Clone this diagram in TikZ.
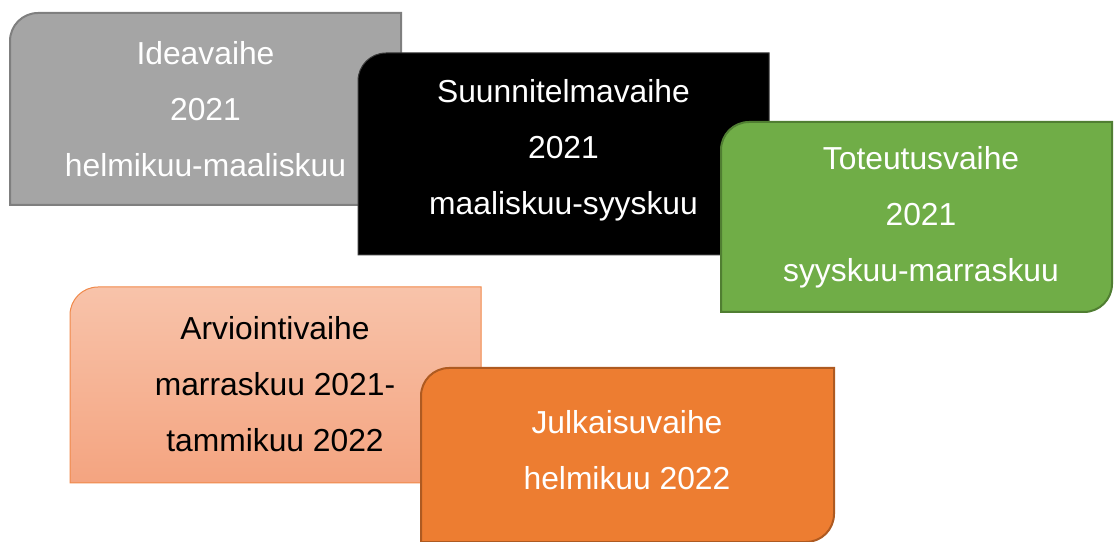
\documentclass[tikz,border=0pt]{standalone}
\usepackage{fontspec}
\setmainfont{Liberation Sans}
\definecolor{grayfill}{HTML}{A5A5A5}
\definecolor{grayline}{HTML}{7F7F7F}
\definecolor{greenfill}{HTML}{70AD47}
\definecolor{greenline}{HTML}{507E32}
\definecolor{salmontop}{HTML}{F8C3AA}
\definecolor{salmonbot}{HTML}{F4A480}
\definecolor{salmonline}{HTML}{F0894A}
\definecolor{orangefill}{HTML}{ED7D31}
\definecolor{orangeline}{HTML}{AE5A21}
\definecolor{blackline}{HTML}{3A3A3A}
% round diagonal corner box: #1 style, #2 x1, #3 y1 (bottom), #4 x2, #5 y2 (top)
\newcommand\phasebox[5]{%
  \path[#1] (#2pt,#3pt) -- (#2pt,#5pt-28pt) arc[start angle=180,end angle=90,radius=28pt]
    -- (#4pt,#5pt) -- (#4pt,#3pt+28pt) arc[start angle=0,end angle=-90,radius=28pt] -- cycle;}
\tikzset{
  phasetext/.style={align=center,inner sep=0pt,font=\fontsize{31.8}{56}\selectfont},
}
\begin{document}
\begin{tikzpicture}[x=1pt,y=1pt]
\useasboundingbox (0,0) rectangle (1114,541);
% Ideavaihe
\phasebox{fill=grayfill,draw=grayline,line width=2pt}{10}{336}{401}{528}
\node[phasetext,text=white] (idea) at (205.5,432) {Ideavaihe\\2021\\helmikuu-maaliskuu};
% Suunnitelmavaihe
\phasebox{fill=black,draw=blackline,line width=1pt}{358}{286}{769}{488}
\node[phasetext,text=white] (plan) at (563.5,390.5) {Suunnitelmavaihe\\2021\\maaliskuu-syyskuu};
% Toteutusvaihe
\phasebox{fill=greenfill,draw=greenline,line width=2pt}{721}{229}{1112}{419}
\node[phasetext,text=white] (impl) at (921,323.5) {Toteutusvaihe\\2021\\syyskuu-marraskuu};
% Arviointivaihe
\phasebox{top color=salmontop,bottom color=salmonbot,draw=salmonline,line width=1pt}{70}{58}{481}{254}
\node[phasetext,text=black] (eval) at (275,157) {Arviointivaihe\\marraskuu 2021-\\tammikuu 2022};
% Julkaisuvaihe
\phasebox{fill=orangefill,draw=orangeline,line width=2pt}{421}{-1}{834}{173}
\node[phasetext,text=white] (pub) at (627,90.5) {Julkaisuvaihe\\helmikuu 2022};
\end{tikzpicture}
\end{document}
